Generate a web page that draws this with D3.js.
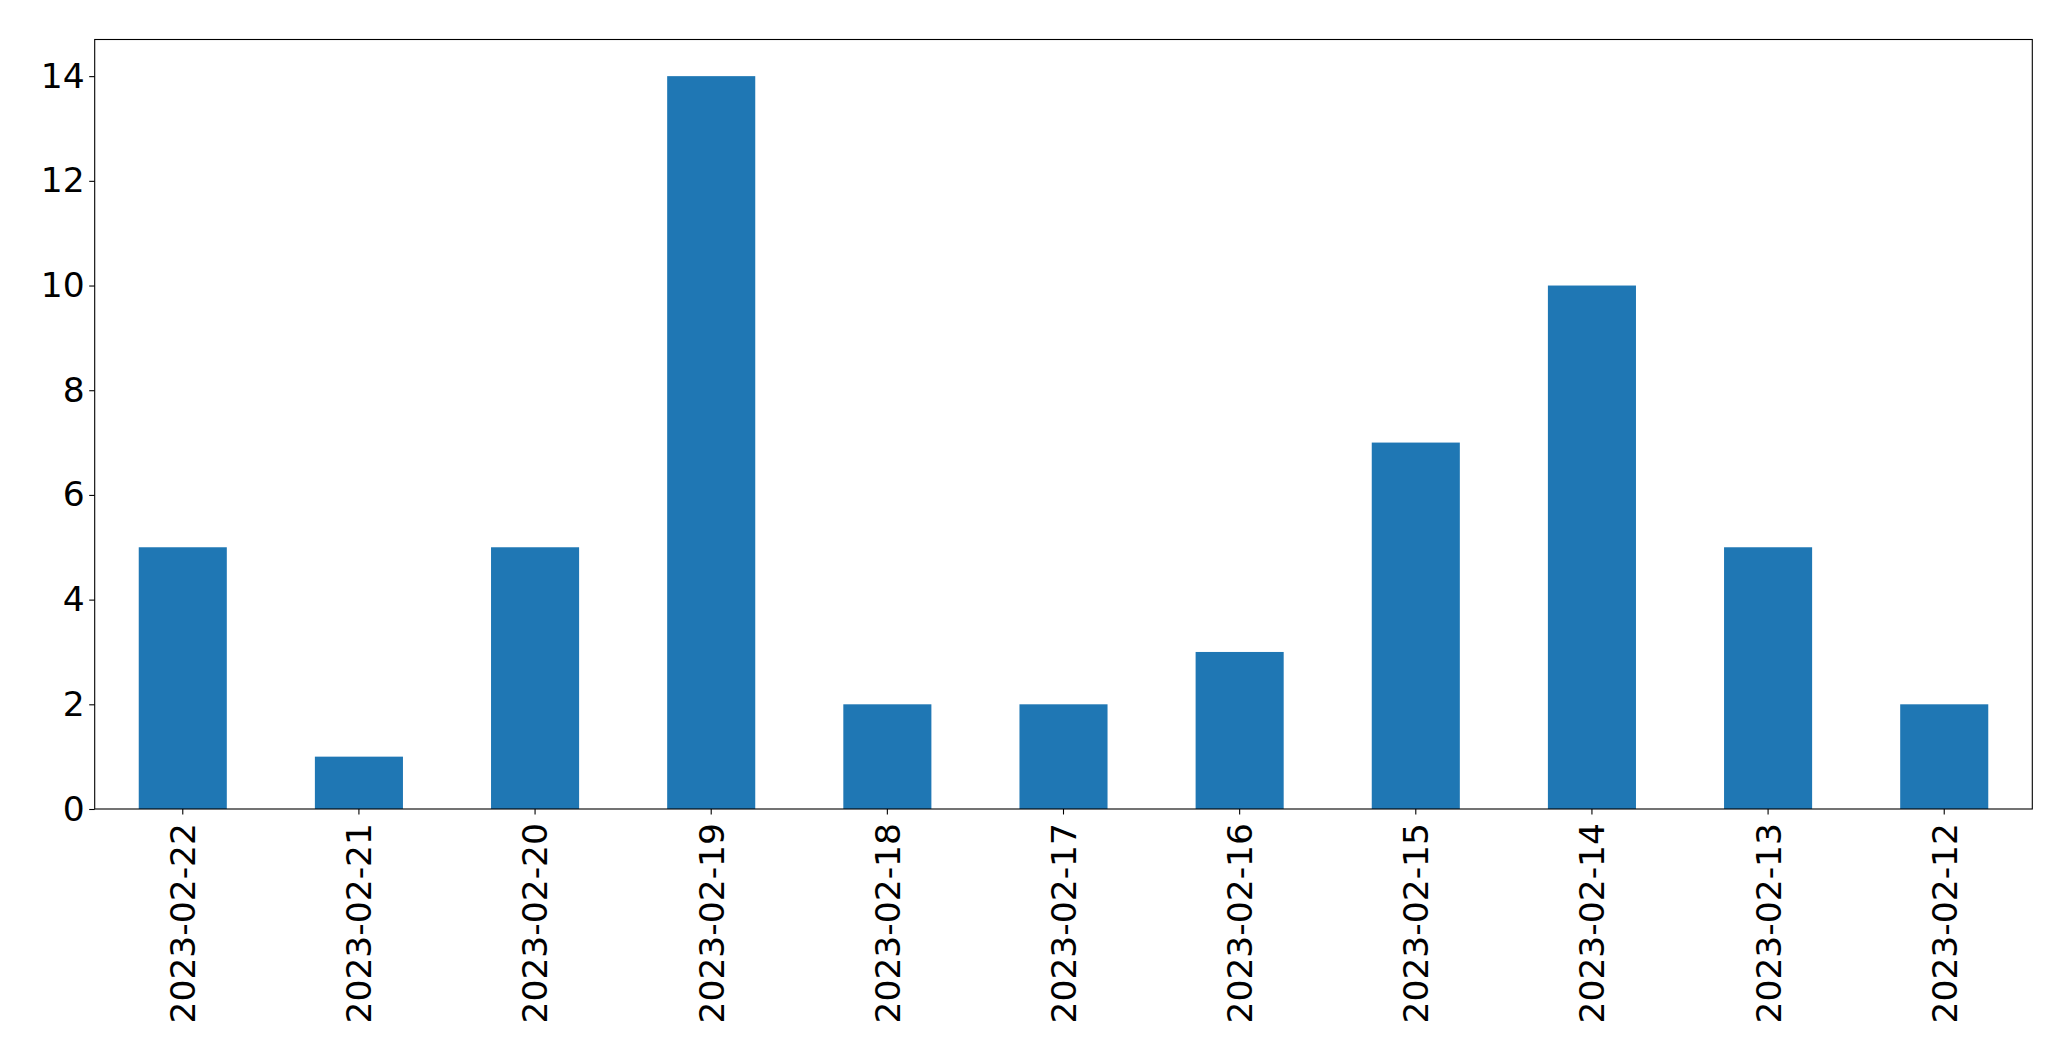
<!DOCTYPE html>
<html>
<head>
<meta charset="utf-8">
<script src="https://cdn.jsdelivr.net/npm/d3@7"></script>
<style>
  html, body { margin: 0; padding: 0; background: #fff; }
  svg { display: block; }
  text { font-family: "DejaVu Sans", sans-serif; fill: #000; }
</style>
</head>
<body>
<svg id="chart" width="2071" height="1061"></svg>
<script>
const categories = ["2023-02-22","2023-02-21","2023-02-20","2023-02-19","2023-02-18","2023-02-17","2023-02-16","2023-02-15","2023-02-14","2023-02-13","2023-02-12"];
const values = [5, 1, 5, 14, 2, 2, 3, 7, 10, 5, 2];
const yTicks = [0, 2, 4, 6, 8, 10, 12, 14];

(function () {
const svg = d3.select("#chart");
const mLeft = 94.7, mRight = 2032.3, mTop = 39.5, mBottom = 809;
const fontSize = 34.5;

const x = d3.scaleBand().domain(categories).range([mLeft, mRight]).paddingInner(0.5).paddingOuter(0.25);
const yMax = d3.max(values) * 1.05;
const y = d3.scaleLinear().domain([0, yMax]).range([mBottom, mTop]);

// bars
svg.append("g").selectAll("rect").data(values).join("rect")
  .attr("x", (d, i) => x(categories[i]))
  .attr("width", x.bandwidth())
  .attr("y", d => y(d))
  .attr("height", d => y(0) - y(d))
  .attr("fill", "#1f77b4");

// frame
svg.append("rect")
  .attr("x", mLeft).attr("y", mTop)
  .attr("width", mRight - mLeft).attr("height", mBottom - mTop)
  .attr("fill", "none").attr("stroke", "#000").attr("stroke-width", 1.1);

// y axis
const yAxis = d3.axisLeft(y).tickValues(yTicks).tickSize(5.5).tickPadding(4.5).tickFormat(d3.format("d"));
const gy = svg.append("g").attr("transform", `translate(${mLeft},0)`).call(yAxis);
gy.select(".domain").remove();
gy.selectAll(".tick line").attr("stroke", "#000").attr("stroke-width", 1.1);
gy.selectAll(".tick text").style("font-size", fontSize + "px").style("font-family", "DejaVu Sans").attr("fill", "#000");

// x axis
const xAxis = d3.axisBottom(x).tickSize(5.5).tickPadding(0);
const gx = svg.append("g").attr("transform", `translate(0,${mBottom})`).call(xAxis);
gx.select(".domain").remove();
gx.selectAll(".tick line").attr("stroke", "#000").attr("stroke-width", 1.1);
gx.selectAll(".tick text")
  .style("font-size", fontSize + "px").style("font-family", "DejaVu Sans").attr("fill", "#000")
  .attr("text-anchor", "end")
  .attr("y", 0).attr("dy", "0.36em")
  .attr("transform", "translate(0,14) rotate(-90)");
})();
</script>
</body>
</html>
